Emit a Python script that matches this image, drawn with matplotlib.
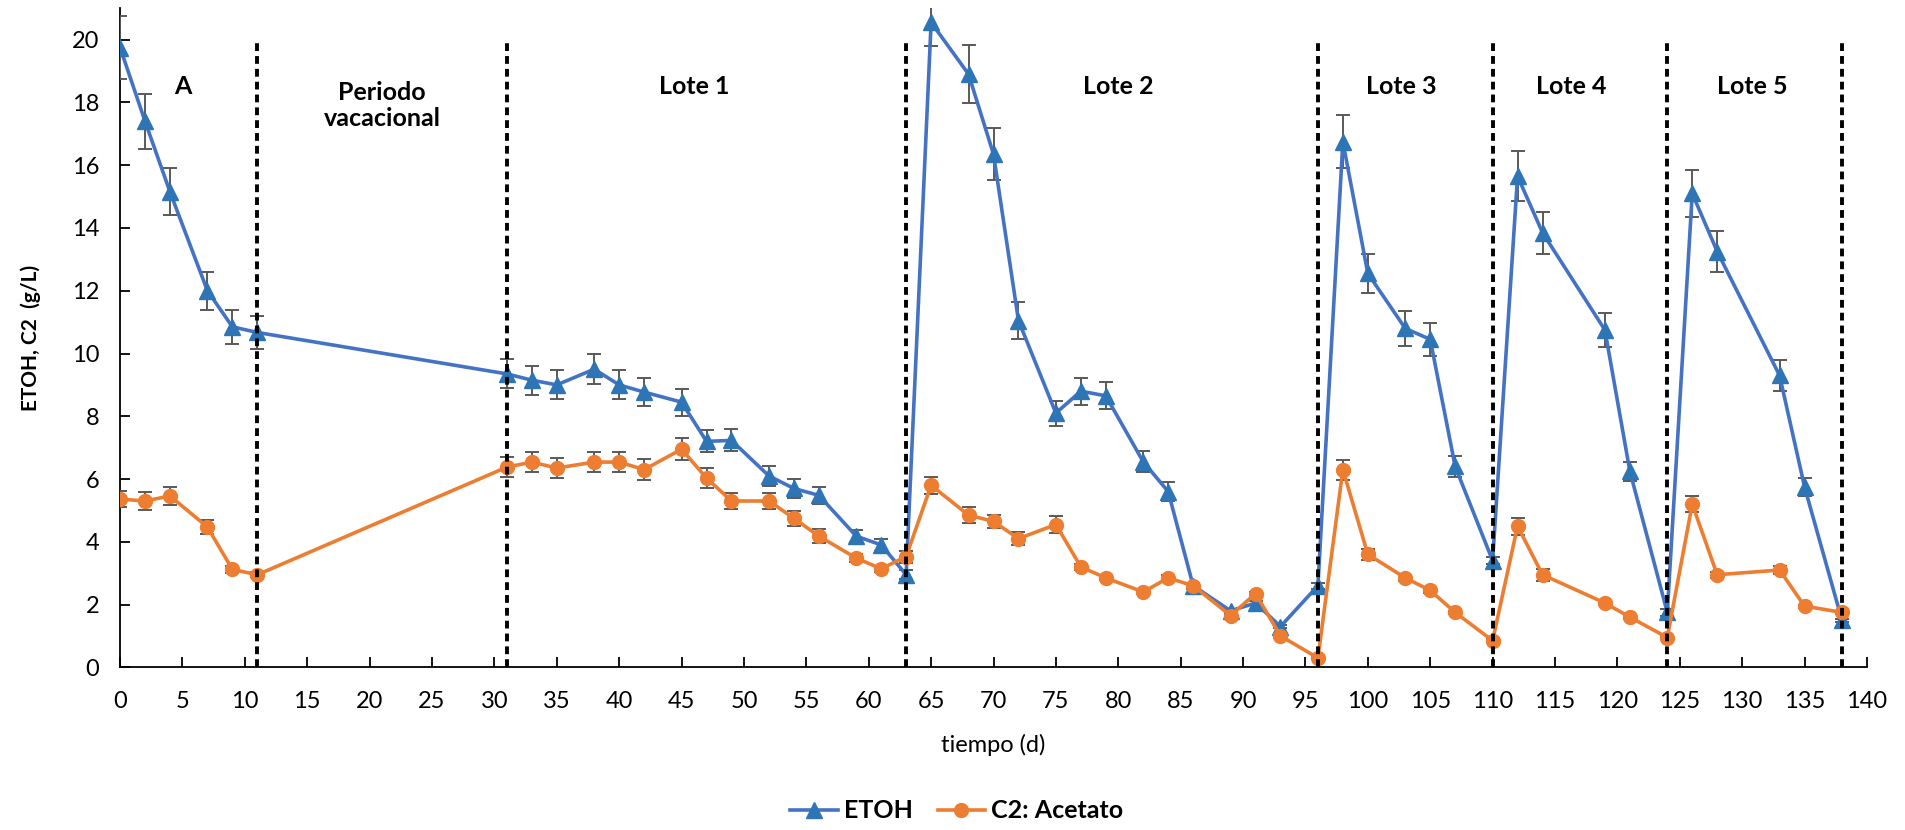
import matplotlib
matplotlib.use("Agg")
import matplotlib.pyplot as plt
from matplotlib.lines import Line2D

plt.rcParams["font.family"] = ["Lato", "DejaVu Sans"]

# tiempo (d) for every sample
dias = [0, 2, 4, 7, 9, 11,
        31, 33, 35, 38, 40, 42, 45, 47, 49, 52, 54, 56, 59, 61, 63,
        65, 68, 70, 72, 75, 77, 79, 82, 84, 86, 89, 91, 93, 96,
        98, 100, 103, 105, 107, 110,
        112, 114, 119, 121, 124,
        126, 128, 133, 135, 138]

etoh = [19.75, 17.4, 15.15, 12.0, 10.85, 10.67,
        9.35, 9.15, 9.0, 9.5, 9.0, 8.77, 8.45, 7.2, 7.23, 6.1, 5.7, 5.48, 4.18, 3.9, 2.95,
        20.55, 18.9, 16.35, 11.05, 8.1, 8.8, 8.65, 6.55, 5.6, 2.6, 1.8, 2.05, 1.3, 2.6,
        16.75, 12.55, 10.8, 10.45, 6.4, 3.4,
        15.65, 13.85, 10.75, 6.25, 1.75,
        15.1, 13.25, 9.3, 5.75, 1.5]

etoh_err = [1.0, 0.87, 0.75, 0.6, 0.55, 0.53,
            0.46, 0.46, 0.46, 0.48, 0.46, 0.44, 0.43, 0.35, 0.35, 0.33, 0.29, 0.27, 0.2, 0.2, 0.15,
            0.76, 0.93, 0.82, 0.58, 0.4, 0.43, 0.43, 0.33, 0.3, 0.1, 0.05, 0.05, 0.05, 0.1,
            0.84, 0.62, 0.55, 0.52, 0.33, 0.1,
            0.8, 0.67, 0.55, 0.3, 0.1,
            0.75, 0.65, 0.48, 0.28, 0.05]

acetato = [5.36, 5.3, 5.46, 4.47, 3.12, 2.95,
           6.38, 6.54, 6.35, 6.54, 6.54, 6.3, 6.95, 6.03, 5.3, 5.3, 4.75, 4.18, 3.48, 3.14, 3.53,
           5.8, 4.85, 4.65, 4.1, 4.55, 3.2, 2.85, 2.4, 2.85, 2.6, 1.65, 2.35, 1.0, 0.3,
           6.3, 3.6, 2.85, 2.45, 1.75, 0.85,
           4.5, 2.95, 2.05, 1.6, 0.95,
           5.2, 2.95, 3.1, 1.95, 1.75]

acetato_err = [0.25, 0.28, 0.28, 0.23, 0.1, 0.08,
               0.33, 0.32, 0.32, 0.31, 0.32, 0.33, 0.35, 0.31, 0.27, 0.27, 0.24, 0.22, 0.13, 0.1, 0.19,
               0.28, 0.25, 0.21, 0.21, 0.26, 0.1, 0.08, 0.05, 0.1, 0.1, 0.05, 0.05, 0.05, 0.05,
               0.32, 0.18, 0.1, 0.08, 0.05, 0.05,
               0.27, 0.19, 0.05, 0.05, 0.05,
               0.25, 0.1, 0.12, 0.05, 0.05]

# limites de cada periodo
cortes = [11, 31, 63, 96, 110, 124, 138]
etiquetas = ["A", "Periodo\nvacacional", "Lote 1", "Lote 2", "Lote 3", "Lote 4", "Lote 5"]
etiqueta_x = [5, 21, 46, 80, 102.7, 116.3, 130.8]

AZUL = "#4472C4"
AZUL_MARCA = "#2E75B6"
NARANJA = "#ED7D31"
GRIS = "#595959"

fig = plt.figure(figsize=(19.06, 8.30), dpi=100)
ax = fig.add_axes([0.063, 0.196, 0.9165, 0.794])

ax.errorbar(dias, etoh, yerr=etoh_err, color=AZUL, lw=2.6, marker="^", ms=11,
            mfc=AZUL_MARCA, mec=AZUL_MARCA, ecolor=GRIS, elinewidth=1.4,
            capsize=5, capthick=1.4, zorder=3)
ax.errorbar(dias, acetato, yerr=acetato_err, color=NARANJA, lw=2.6, marker="o", ms=10,
            mfc=NARANJA, mec=NARANJA, ecolor=GRIS, elinewidth=1.4,
            capsize=5, capthick=1.4, zorder=3)

for c in cortes:
    ax.plot([c, c], [0, 19.9], color="black", lw=2.8, ls=(0, (2, 1.3)), zorder=4)

for txt, xx in zip(etiquetas, etiqueta_x):
    yy = 17.9 if "\n" in txt else 18.5
    ax.text(xx, yy, txt, ha="center", va="center", fontsize=18,
            fontweight="bold", linespacing=1.2)

ax.set_xlim(0, 140)
ax.set_ylim(0, 21)
ax.set_xticks(range(0, 141, 5))
ax.set_yticks(range(0, 21, 2))
ax.tick_params(direction="in", length=7, width=1.3, labelsize=17)
ax.tick_params(axis="x", pad=17)
ax.tick_params(axis="y", pad=15)
ax.spines["top"].set_visible(False)
ax.spines["right"].set_visible(False)
for s in ("left", "bottom"):
    ax.spines[s].set_linewidth(1.3)

ax.set_xlabel("tiempo (d)", fontsize=17, labelpad=16)
ax.set_ylabel("ETOH, C2  (g/L)", fontsize=15, fontweight="bold", labelpad=22)

handles = [Line2D([], [], color=AZUL, lw=2.6, marker="^", ms=11, mfc=AZUL_MARCA, mec=AZUL_MARCA),
           Line2D([], [], color=NARANJA, lw=2.6, marker="o", ms=10, mfc=NARANJA, mec=NARANJA)]
leg = fig.legend(handles, ["ETOH", "C2: Acetato"], loc="center", bbox_to_anchor=(0.502, 0.023),
                 ncol=2, frameon=False, handlelength=1.9, handletextpad=0.25,
                 columnspacing=1.0, prop={"size": 18, "weight": "bold"})

fig.savefig("out.png", dpi=100)
